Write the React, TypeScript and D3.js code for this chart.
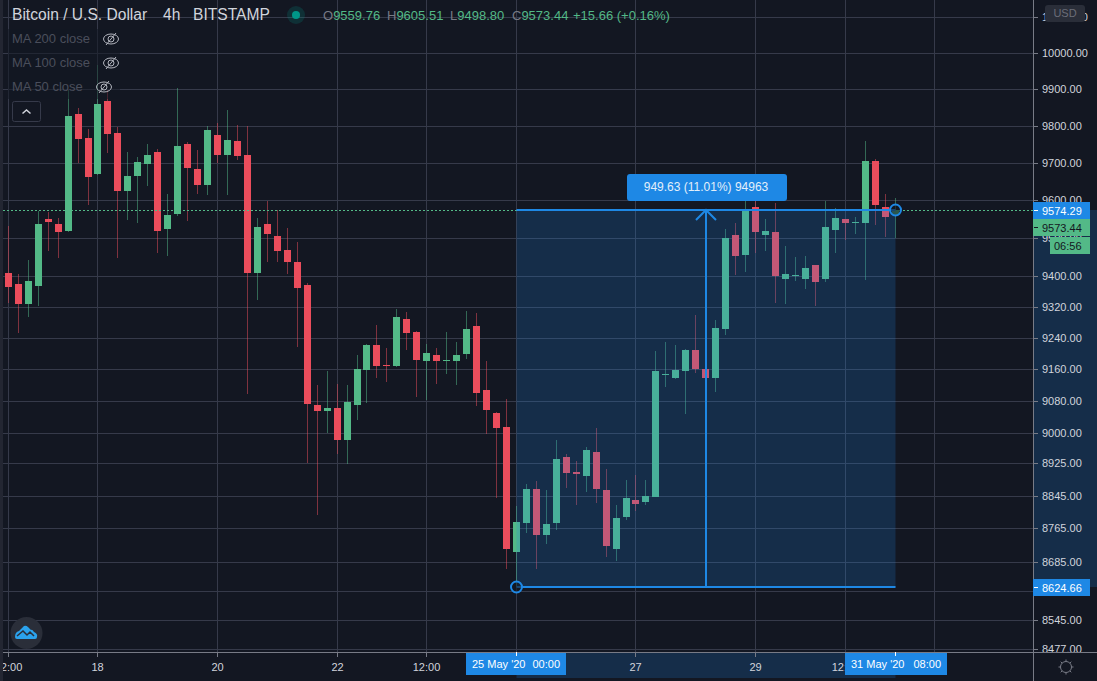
import * as d3 from 'd3';
import React, { useEffect, useRef } from 'react';

const opens = [
  9408, 9380, 9328, 9375, 9550, 9537, 9519, 9832, 9767, 9670,
  9868, 9781, 9625, 9665, 9697, 9729, 9524, 9564, 9751, 9684,
  9641, 9775, 9721, 9759, 9721, 9409, 9537, 9506, 9469, 9437,
  9377, 9070, 9055, 9063, 8983, 9070, 9159, 9222, 9171, 9169,
  9289, 9256, 9182, 9197, 9182, 9182, 9199, 9271, 9108, 9050,
  9015, 8708, 8778, 8862, 8749, 8778, 8940, 8904, 8894, 8953,
  8859, 8715, 8793, 8834, 8830, 8842, 9146, 9139, 9156, 9210,
  9161, 9139, 9264, 9508, 9455, 9582, 9508, 9516, 9393, 9401,
  9393, 9429, 9393, 9521, 9550, 9540, 9540, 9705, 9582, 9559.76,
];
const highs = [
  9532, 9406, 9442, 9572, 9569, 9553, 9898, 9849, 9792, 9967,
  9898, 9797, 9729, 9716, 9751, 9737, 9617, 9904, 9756, 9735,
  9800, 9808, 9843, 9803, 9800, 9553, 9598, 9574, 9527, 9490,
  9382, 9121, 9156, 9123, 9121, 9197, 9224, 9274, 9215, 9315,
  9307, 9258, 9225, 9215, 9256, 9230, 9310, 9305, 9182, 9052,
  9085, 8820, 8874, 8881, 8859, 8983, 8948, 8931, 8965, 9013,
  8911, 8822, 8884, 8896, 8884, 9207, 9230, 9222, 9211, 9300,
  9162, 9287, 9524, 9540, 9601, 9598, 9550, 9593, 9479, 9450,
  9453, 9430, 9598, 9580, 9551, 9556, 9759, 9710, 9617, 9605.51,
];
const lows = [
  9330, 9253, 9294, 9323, 9466, 9448, 9517, 9700, 9588, 9668,
  9727, 9448, 9548, 9540, 9638, 9461, 9453, 9558, 9545, 9617,
  9614, 9700, 9614, 9708, 9098, 9338, 9437, 9437, 9406, 9217,
  8926, 8798, 9000, 8948, 8923, 9033, 9075, 9139, 9128, 9166,
  9210, 9090, 9083, 9123, 9149, 9121, 9187, 9068, 8998, 8839,
  8667, 8624.66, 8754, 8667, 8727, 8761, 8864, 8822, 8854, 8827,
  8696, 8686, 8786, 8808, 8822, 8841, 9116, 9136, 9048, 9151,
  9138, 9103, 9248, 9403, 9411, 9461, 9466, 9330, 9328, 9388,
  9367, 9323, 9385, 9461, 9495, 9511, 9390, 9535, 9503, 9498.8,
];
const closes = [
  9372, 9328, 9388, 9537, 9543, 9516, 9827, 9765, 9662, 9860,
  9778, 9625, 9665, 9702, 9721, 9519, 9561, 9746, 9686, 9641,
  9789, 9721, 9762, 9719, 9409, 9529, 9511, 9466, 9437, 9369,
  9073, 9055, 9063, 8983, 9078, 9161, 9222, 9169, 9169, 9294,
  9253, 9184, 9202, 9182, 9184, 9197, 9264, 9100, 9058, 9013,
  8715, 8781, 8862, 8749, 8776, 8936, 8901, 8899, 8958, 8862,
  8723, 8791, 8839, 8825, 8844, 9156, 9149, 9159, 9210, 9161,
  9139, 9266, 9500, 9453, 9572, 9516, 9519, 9401, 9406, 9403,
  9422, 9385, 9529, 9553, 9540, 9543, 9705, 9587, 9556, 9573.44,
];

const priceTicks = [
  10100, 10000, 9900, 9800, 9700, 9600, 9500, 9400, 9320, 9240, 9160, 9080,
  9000, 8925, 8845, 8765, 8685, 8615, 8545, 8477,
];
const timeTickIndex = [0, 9, 21, 33, 42, 63, 75, 84, 93];
const timeTickLabels = ['12:00', '18', '20', '22', '12:00', '27', '29', '12:00', ''];
const maLabels = ['MA 200 close', 'MA 100 close', 'MA 50 close'];

const rangeLow = 8624.66;
const rangeHigh = 9574.29;
const rangeStart = 51;
const rangeEnd = 89;
const lastClose = 9573.44;

const W = 1097;
const H = 681;
const axisX = 1033;
const axisY = 652;
const BG = '#131722';
const GRID = '#363a4a';
const UP = '#53b987';
const DOWN = '#eb4d5c';
const BLUE = '#1e88e5';
const AXIS = '#787b86';
const TEXT = '#d1d4dc';
const FONT = '"Liberation Sans", Arial, sans-serif';

function LineChart() {
  const svgRef = useRef<SVGSVGElement>(null);

  useEffect(() => {
    const svg = d3.select(svgRef.current);
    svg.selectAll('*').remove();
    svg.style('font-family', FONT);

    const xScale = d3.scaleLinear().domain([0, 89]).range([8.3, 895]);
    const yScale = d3.scaleLog().domain([10000, 8477]).range([53, 649]);
    const py = (v: number) => Math.round(yScale(v));
    const crisp = (v: number) => Math.round(yScale(v)) + 0.5;
    const left = (i: number) => Math.round(xScale(i) - 3.5);

    svg.append('rect').attr('width', W).attr('height', H).attr('fill', BG);

    // grid
    const grid = svg.append('g').attr('stroke', GRID).attr('stroke-width', 1);
    grid
      .selectAll('line.h')
      .data(priceTicks)
      .join('line')
      .attr('class', 'h')
      .attr('x1', 3)
      .attr('x2', axisX)
      .attr('y1', crisp)
      .attr('y2', crisp);
    grid
      .selectAll('line.v')
      .data([...timeTickIndex, rangeStart])
      .join('line')
      .attr('class', 'v')
      .attr('x1', (d) => left(d) + 3.5)
      .attr('x2', (d) => left(d) + 3.5)
      .attr('y1', 0)
      .attr('y2', axisY);

    // candles
    const idx = d3.range(opens.length);
    const color = (i: number) => (closes[i] >= opens[i] ? UP : DOWN);
    svg
      .append('g')
      .selectAll('rect')
      .data(idx)
      .join('rect')
      .attr('x', (i) => left(i) + 3)
      .attr('width', 1)
      .attr('y', (i) => py(highs[i]))
      .attr('height', (i) => py(lows[i]) - py(highs[i]))
      .attr('fill', color)
      .attr('fill-opacity', 0.5);
    svg
      .append('g')
      .selectAll('rect')
      .data(idx)
      .join('rect')
      .attr('x', left)
      .attr('width', 7)
      .attr('y', (i) => py(Math.max(opens[i], closes[i])))
      .attr('height', (i) =>
        Math.max(1, py(Math.min(opens[i], closes[i])) - py(Math.max(opens[i], closes[i])))
      )
      .attr('fill', color);

    // last price line
    svg
      .append('line')
      .attr('x1', 3)
      .attr('x2', axisX)
      .attr('y1', crisp(rangeHigh))
      .attr('y2', crisp(rangeHigh))
      .attr('stroke', UP)
      .attr('stroke-dasharray', '2,2');

    // long position tool
    const x0 = left(rangeStart) + 3.5;
    const x1 = left(rangeEnd) + 3.5;
    const yTop = py(rangeHigh);
    const yBottom = py(rangeLow);
    const xMid = Math.round((x0 + x1) / 2);
    svg
      .append('rect')
      .attr('x', x0)
      .attr('y', yTop)
      .attr('width', x1 - x0)
      .attr('height', yBottom - yTop)
      .attr('fill', BLUE)
      .attr('fill-opacity', 0.2);
    const tool = svg.append('g').attr('stroke', BLUE).attr('stroke-width', 2).attr('fill', 'none');
    tool.append('line').attr('x1', x0).attr('x2', x1).attr('y1', yTop).attr('y2', yTop);
    tool.append('line').attr('x1', x0).attr('x2', x1).attr('y1', yBottom).attr('y2', yBottom);
    tool.append('line').attr('x1', xMid).attr('x2', xMid).attr('y1', yTop).attr('y2', yBottom);
    tool
      .append('path')
      .attr('d', d3.line()([[xMid - 10, yTop + 10], [xMid, yTop], [xMid + 10, yTop + 10]]));
    svg
      .append('rect')
      .attr('x', 627)
      .attr('y', 174)
      .attr('width', 160)
      .attr('height', 27)
      .attr('rx', 3)
      .attr('fill', BLUE);
    svg
      .append('text')
      .attr('x', 706)
      .attr('y', 191)
      .attr('text-anchor', 'middle')
      .attr('font-size', 12)
      .attr('fill', '#e3effa')
      .text('949.63 (11.01%) 94963');
    [[x0, yBottom], [x1, yTop]].forEach(([cx, cy]) => {
      svg
        .append('circle')
        .attr('cx', cx)
        .attr('cy', cy)
        .attr('r', 5.5)
        .attr('fill', BG)
        .attr('fill-opacity', 0.6)
        .attr('stroke', BLUE)
        .attr('stroke-width', 2);
    });

    // axis panes
    svg
      .append('rect')
      .attr('x', axisX)
      .attr('y', 0)
      .attr('width', W - axisX)
      .attr('height', H)
      .attr('fill', BG);
    svg.append('rect').attr('y', axisY).attr('width', W).attr('height', H - axisY).attr('fill', BG);
    svg
      .append('rect')
      .attr('x', axisX)
      .attr('y', yTop)
      .attr('width', W - axisX)
      .attr('height', yBottom - yTop)
      .attr('fill', BLUE)
      .attr('fill-opacity', 0.2);
    svg
      .append('rect')
      .attr('x', x0)
      .attr('y', axisY)
      .attr('width', x1 - x0)
      .attr('height', 26)
      .attr('fill', BLUE)
      .attr('fill-opacity', 0.2);

    // price axis
    const priceAxis = svg.append('g');
    priceAxis
      .selectAll('line')
      .data(priceTicks)
      .join('line')
      .attr('x1', axisX)
      .attr('x2', axisX + 5)
      .attr('y1', crisp)
      .attr('y2', crisp)
      .attr('stroke', AXIS);
    priceAxis
      .selectAll('text')
      .data(priceTicks.filter((d) => d !== 8615))
      .join('text')
      .attr('x', 1042)
      .attr('y', (d) => py(d) + 4)
      .attr('font-size', 11)
      .attr('fill', TEXT)
      .text((d) => d.toFixed(2));

    // time axis
    const timeAxis = svg.append('g');
    timeAxis
      .selectAll('line')
      .data(timeTickIndex)
      .join('line')
      .attr('x1', (d) => left(d) + 3.5)
      .attr('x2', (d) => left(d) + 3.5)
      .attr('y1', axisY)
      .attr('y2', axisY + 5)
      .attr('stroke', AXIS);
    timeAxis
      .selectAll('text')
      .data(timeTickIndex)
      .join('text')
      .attr('x', (d) => left(d) + 3.5)
      .attr('y', 671)
      .attr('text-anchor', 'middle')
      .attr('font-size', 11)
      .attr('fill', TEXT)
      .text((_, i) => timeTickLabels[i]);
    svg.append('rect').attr('x', 0).attr('y', 0).attr('width', 3).attr('height', H).attr('fill', '#232632');

    svg
      .append('line')
      .attr('x1', axisX + 0.5)
      .attr('x2', axisX + 0.5)
      .attr('y1', 0)
      .attr('y2', H)
      .attr('stroke', AXIS);
    svg
      .append('line')
      .attr('x1', 3)
      .attr('x2', W)
      .attr('y1', axisY + 0.5)
      .attr('y2', axisY + 0.5)
      .attr('stroke', AXIS);

    // price labels
    const priceTag = (
      x: number,
      y: number,
      w: number,
      h: number,
      fill: string,
      ink: string,
      label: string,
      textX: number
    ) => {
      svg.append('rect').attr('x', x).attr('y', y).attr('width', w).attr('height', h).attr('fill', fill);
      svg
        .append('text')
        .attr('x', textX)
        .attr('y', y + h / 2 + 4)
        .attr('font-size', 11)
        .attr('fill', ink)
        .text(label);
    };
    priceTag(axisX, 202, 57, 17, BLUE, '#ffffff', rangeHigh.toFixed(2), 1042);
    priceTag(axisX, 219, 57, 17, UP, BG, lastClose.toFixed(2), 1042);
    priceTag(1050, 237, 40, 17, UP, BG, '06:56', 1054);
    priceTag(axisX, 579, 57, 17, BLUE, '#ffffff', rangeLow.toFixed(2), 1042);
    [[yTop, '#ffffff'], [py(lastClose) + 17, BG], [yBottom, '#ffffff']].forEach(([y, c]) => {
      svg
        .append('line')
        .attr('x1', axisX + 1)
        .attr('x2', axisX + 5)
        .attr('y1', Number(y) + 0.5)
        .attr('y2', Number(y) + 0.5)
        .attr('stroke', String(c));
    });

    // time labels
    [
      [466, "25 May '20", '00:00', x0],
      [845, "31 May '20", '08:00', x1],
    ].forEach(([bx, date, time, tick]) => {
      const b = Number(bx);
      const w = b === 845 ? 102 : 100;
      svg.append('rect').attr('x', b).attr('y', 653).attr('width', w).attr('height', 22).attr('fill', BLUE);
      svg
        .append('text')
        .attr('x', b + 6)
        .attr('y', 668)
        .attr('font-size', 11)
        .attr('fill', '#ffffff')
        .text(String(date));
      svg
        .append('text')
        .attr('x', b + w - 6)
        .attr('y', 668)
        .attr('text-anchor', 'end')
        .attr('font-size', 11)
        .attr('fill', '#ffffff')
        .text(String(time));
      svg
        .append('line')
        .attr('x1', Number(tick))
        .attr('x2', Number(tick))
        .attr('y1', axisY)
        .attr('y2', axisY + 4)
        .attr('stroke', '#ffffff');
    });

    // USD button
    svg.append('rect').attr('x', 1045).attr('y', 5).attr('width', 40).attr('height', 17).attr('rx', 3).attr('fill', '#2a2e39');
    svg
      .append('text')
      .attr('x', 1065)
      .attr('y', 17)
      .attr('text-anchor', 'middle')
      .attr('font-size', 11)
      .attr('fill', '#6a6d78')
      .text('USD');

    // settings icon
    const gear = svg.append('g').attr('stroke', AXIS).attr('fill', 'none');
    gear.append('circle').attr('cx', 1066).attr('cy', 667).attr('r', 5.5);
    d3.range(8).forEach((k) => {
      const a = (k * Math.PI) / 4;
      gear
        .append('line')
        .attr('x1', 1066 + Math.cos(a) * 5.5)
        .attr('y1', 667 + Math.sin(a) * 5.5)
        .attr('x2', 1066 + Math.cos(a) * 7.5)
        .attr('y2', 667 + Math.sin(a) * 7.5);
    });

    // legend
    svg.append('rect').attr('x', 8).attr('y', 29).attr('width', 112).attr('height', 70).attr('fill', BG).attr('fill-opacity', 0.55);
    const title = svg.append('g').attr('font-size', 15.6).attr('fill', TEXT);
    title.append('text').attr('x', 12).attr('y', 20).text('Bitcoin / U.S. Dollar');
    title.append('text').attr('x', 163).attr('y', 20).text('4h');
    title.append('text').attr('x', 193).attr('y', 20).text('BITSTAMP');
    svg.append('circle').attr('cx', 296).attr('cy', 15).attr('r', 9).attr('fill', '#009688').attr('fill-opacity', 0.2);
    svg.append('circle').attr('cx', 296).attr('cy', 15).attr('r', 4).attr('fill', '#009688');

    const ohlc: [number, string, string][] = [
      [323, 'O', opens[89].toFixed(2)],
      [387, 'H', highs[89].toFixed(2)],
      [450, 'L', lows[89].toFixed(2)],
      [512, 'C', closes[89].toFixed(2)],
    ];
    ohlc.forEach(([x, k, v]) => {
      const t = svg.append('text').attr('x', x).attr('y', 20).attr('font-size', 13);
      t.append('tspan').attr('fill', AXIS).text(k);
      t.append('tspan').attr('fill', UP).text(v);
    });
    svg
      .append('text')
      .attr('x', 573)
      .attr('y', 20)
      .attr('font-size', 13)
      .attr('fill', UP)
      .text('+15.66 (+0.16%)');

    maLabels.forEach((label, i) => {
      const y = 43 + i * 24;
      svg.append('text').attr('x', 12).attr('y', y).attr('font-size', 13).attr('fill', '#4a4e5b').text(label);
      const ex = i === 2 ? 104 : 111;
      const eye = svg.append('g').attr('stroke', '#b2b5be').attr('fill', 'none').attr('stroke-width', 1);
      eye.append('ellipse').attr('cx', ex).attr('cy', y - 4).attr('rx', 7.5).attr('ry', 5);
      eye.append('circle').attr('cx', ex).attr('cy', y - 4).attr('r', 3);
      eye.append('line').attr('x1', ex - 5).attr('y1', y + 2).attr('x2', ex + 5).attr('y2', y - 10);
    });

    svg.append('rect').attr('x', 12.5).attr('y', 101.5).attr('width', 28).attr('height', 20).attr('rx', 2).attr('fill', BG).attr('stroke', GRID);
    svg.append('path').attr('d', 'M22.5 113.5L26.5 110L30.5 113.5').attr('fill', 'none').attr('stroke', TEXT).attr('stroke-width', 1.5);

    // logo
    svg.append('circle').attr('cx', 26.5).attr('cy', 633).attr('r', 16).attr('fill', '#2a2e39');
    svg.append('path').attr('d', 'M15 637Q15 632 19 631L24 626Q26 625 28 627L31 630Q32 629 34 632Q38 634 37 637Q37 639 35 639L17 639Q15 639 15 637Z').attr('fill', '#2ba2ec');
    svg.append('path').attr('d', 'M17 636L23 631L27 635L30 632L34 636').attr('fill', 'none').attr('stroke', '#2a2e39').attr('stroke-width', 1.5);
  }, []);

  return (
    <div className="PlotXY">
      <svg
        ref={svgRef}
        width={W}
        height={H}
        style={{ position: 'absolute', top: 0, left: 0, display: 'block' }}
      />
    </div>
  );
}

export default function App() {
  return <LineChart />;
}
